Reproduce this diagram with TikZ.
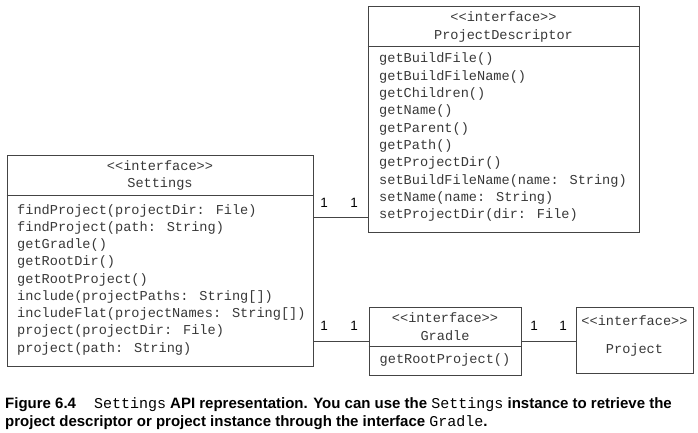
\documentclass[tikz,border=0pt]{standalone}
\usepackage{fontspec}
\setmainfont{Liberation Sans}
\newfontfamily\umlmono{Liberation Mono}
\newfontfamily\capsans{Liberation Sans}
\newfontfamily\capmono{Liberation Mono}
\definecolor{umlline}{HTML}{444444}
\definecolor{umltext}{HTML}{383838}
\begin{document}
\begin{tikzpicture}[x=1pt,y=1pt,
  umlbox/.style={draw=umlline, line width=0.9pt, rectangle, inner sep=0pt, minimum width=#1},
  umltxt/.style={text=umltext, font=\umlmono\fontsize{13.6}{16}\selectfont, inner sep=0pt},
  conn/.style={draw=umlline, line width=0.9pt},
  mult/.style={font=\fontsize{13.5}{15}\selectfont, inner sep=0pt, text=black},
  captxt/.style={font=\capsans\bfseries\fontsize{15}{17}\selectfont, inner sep=0pt, anchor=base west}
]
\useasboundingbox (0,0) rectangle (698,-433);

% Settings box
\node[umlbox=306pt, minimum height=211pt] (settings) at (160,-260.5) {};
\draw[conn] (settings.west |- 0,-195) -- (settings.east |- 0,-195);
\node[umltxt] (sh1) at (160,-166) {<<interface>>};
\node[umltxt] (sh2) at (160,-184) {Settings};
\foreach \t [count=\i] in {{findProject(projectDir: File)},{findProject(path: String)},{getGradle()},{getRootDir()},{getRootProject()},{include(projectPaths: String[])},{includeFlat(projectNames: String[])},{project(projectDir: File)},{project(path: String)}}
  \node[umltxt, anchor=base west] (sm\i) at (17,{-214-17.25*(\i-1)}) {\t};

% ProjectDescriptor box
\node[umlbox=271pt, minimum height=226pt] (pd) at (503.5,-119) {};
\draw[conn] (pd.west |- 0,-46) -- (pd.east |- 0,-46);
\node[umltxt] (ph1) at (503.5,-17) {<<interface>>};
\node[umltxt] (ph2) at (503.5,-36) {ProjectDescriptor};
\foreach \t [count=\i] in {{getBuildFile()},{getBuildFileName()},{getChildren()},{getName()},{getParent()},{getPath()},{getProjectDir()},{setBuildFileName(name: String)},{setName(name: String)},{setProjectDir(dir: File)}}
  \node[umltxt, anchor=base west] (pm\i) at (379,{-63-17.33*(\i-1)}) {\t};

% Gradle box
\node[umlbox=152pt, minimum height=68pt] (gradle) at (445,-341) {};
\draw[conn] (gradle.west |- 0,-346.5) -- (gradle.east |- 0,-346.5);
\node[umltxt] (gh1) at (445,-318) {<<interface>>};
\node[umltxt] (gh2) at (445,-335.5) {Gradle};
\node[umltxt] (gm1) at (445,-359.5) {getRootProject()};

% Project box
\node[umlbox=117pt, minimum height=66pt] (project) at (634.5,-340) {};
\node[umltxt] (prh1) at (634.5,-321) {<<interface>>};
\node[umltxt] (prh2) at (634.5,-350) {Project};

% connectors
\coordinate (c1) at (0,-217);
\draw[conn] (settings.east |- c1) -- (pd.west |- c1);
\draw[conn] (settings.east |- gradle.west) -- (gradle.west);
\draw[conn] (gradle.east) -- (project.west |- gradle.east);

\node[mult] (m1) at (324,-203) {1};
\node[mult] (m2) at (354,-203) {1};
\node[mult] (m3) at (324,-326) {1};
\node[mult] (m4) at (354,-326) {1};
\node[mult] (m5) at (534,-326) {1};
\node[mult] (m6) at (563,-326) {1};

% caption
\node[captxt] (cap1) at (5,-408) {Figure 6.4\hspace{18pt}{\capmono\mdseries\fontsize{15}{17}\selectfont Settings} API representation. You can use the {\capmono\mdseries\fontsize{15}{17}\selectfont Settings} instance to retrieve the};
\node[captxt] (cap2) at (5,-426) {project descriptor or project instance through the interface {\capmono\mdseries\fontsize{15}{17}\selectfont Gradle}.};
\end{tikzpicture}
\end{document}
